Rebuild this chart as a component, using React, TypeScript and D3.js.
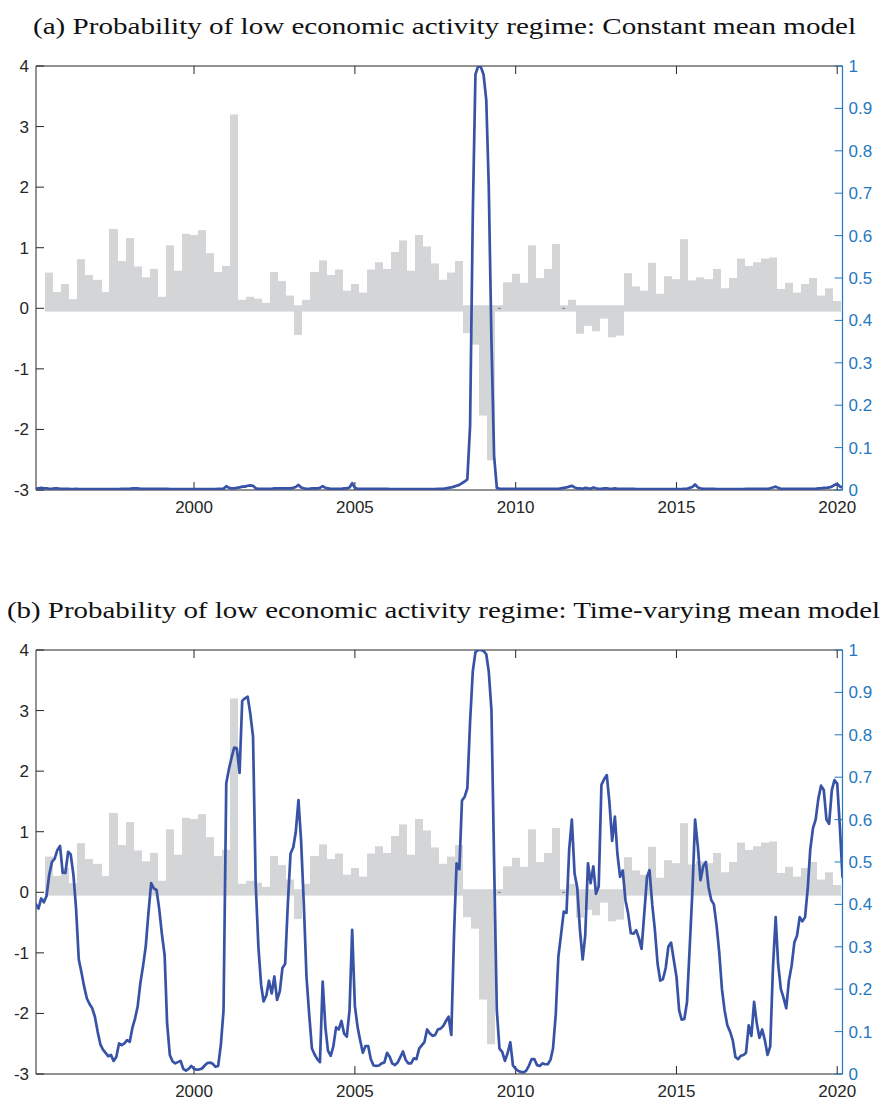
import * as d3 from "d3";

// Quarterly GDP growth (%), 1995Q2 .. 2019Q4, bars centred on quarter end
const gdpGrowth = [
  0.59, 0.27, 0.40, 0.15, 0.81, 0.55, 0.47, 0.27, 1.31, 0.78,
  1.16, 0.69, 0.51, 0.65, 0.19, 1.04, 0.62, 1.23, 1.21, 1.29,
  0.91, 0.60, 0.70, 3.20, 0.14, 0.19, 0.16, 0.09, 0.60, 0.45,
  0.21, -0.44, 0.14, 0.60, 0.79, 0.55, 0.64, 0.29, 0.40, 0.26,
  0.64, 0.76, 0.65, 0.93, 1.12, 0.62, 1.21, 1.02, 0.74, 0.47,
  0.59, 0.78, -0.41, -0.60, -1.77, -2.51, 0.0, 0.43, 0.57, 0.42,
  1.04, 0.50, 0.65, 1.06, 0.0, 0.14, -0.42, -0.29, -0.38, -0.17,
  -0.48, -0.45, 0.58, 0.36, 0.29, 0.75, 0.24, 0.53, 0.48, 1.14,
  0.46, 0.51, 0.48, 0.65, 0.33, 0.50, 0.82, 0.70, 0.76, 0.82,
  0.84, 0.32, 0.42, 0.26, 0.40, 0.50, 0.21, 0.33, 0.12,
];

// Monthly regime probabilities, Feb 1995 .. Mar 2020 (one row per year)
const probConstantRows = [
  [0.003, 0.004, 0.005, 0.004, 0.004, 0.003, 0.003, 0.004, 0.004, 0.003, 0.003],
  [0.003, 0.003, 0.002, 0.002, 0.003, 0.002, 0.002, 0.002, 0.002, 0.002, 0.002, 0.002],
  [0.002, 0.002, 0.002, 0.002, 0.002, 0.002, 0.002, 0.002, 0.002, 0.003, 0.003, 0.003],
  [0.003, 0.004, 0.004, 0.004, 0.003, 0.003, 0.003, 0.003, 0.003, 0.003, 0.003, 0.003],
  [0.003, 0.003, 0.003, 0.002, 0.002, 0.002, 0.002, 0.002, 0.002, 0.002, 0.002, 0.002],
  [0.002, 0.002, 0.002, 0.002, 0.002, 0.002, 0.002, 0.002, 0.002, 0.003, 0.003, 0.003],
  [0.009, 0.005, 0.004, 0.004, 0.005, 0.006, 0.008, 0.008, 0.010, 0.011, 0.010, 0.004],
  [0.003, 0.003, 0.003, 0.003, 0.003, 0.003, 0.004, 0.004, 0.004, 0.004, 0.004, 0.004],
  [0.004, 0.005, 0.007, 0.012, 0.006, 0.004, 0.003, 0.003, 0.004, 0.004, 0.004, 0.005],
  [0.009, 0.005, 0.004, 0.003, 0.003, 0.003, 0.003, 0.003, 0.004, 0.004, 0.006, 0.016],
  [0.005, 0.003, 0.003, 0.003, 0.003, 0.003, 0.003, 0.003, 0.003, 0.003, 0.003, 0.003],
  [0.003, 0.002, 0.002, 0.002, 0.002, 0.002, 0.002, 0.002, 0.002, 0.002, 0.002, 0.002],
  [0.002, 0.002, 0.002, 0.002, 0.002, 0.002, 0.002, 0.003, 0.003, 0.003, 0.004, 0.005],
  [0.006, 0.008, 0.010, 0.012, 0.016, 0.020, 0.025, 0.150, 0.650, 0.980, 1.000, 0.998],
  [0.980, 0.920, 0.720, 0.350, 0.080, 0.005, 0.003, 0.003, 0.003, 0.003, 0.003, 0.003],
  [0.003, 0.003, 0.003, 0.003, 0.003, 0.003, 0.003, 0.003, 0.003, 0.003, 0.003, 0.003],
  [0.003, 0.003, 0.003, 0.003, 0.003, 0.004, 0.005, 0.006, 0.008, 0.010, 0.006, 0.004],
  [0.004, 0.003, 0.005, 0.004, 0.003, 0.006, 0.004, 0.003, 0.003, 0.004, 0.004, 0.003],
  [0.003, 0.004, 0.003, 0.003, 0.003, 0.003, 0.003, 0.003, 0.003, 0.002, 0.002, 0.002],
  [0.002, 0.002, 0.002, 0.002, 0.002, 0.002, 0.002, 0.002, 0.002, 0.002, 0.002, 0.002],
  [0.002, 0.002, 0.002, 0.003, 0.003, 0.005, 0.007, 0.013, 0.006, 0.004, 0.003, 0.003],
  [0.003, 0.003, 0.003, 0.002, 0.002, 0.002, 0.002, 0.002, 0.002, 0.002, 0.002, 0.002],
  [0.002, 0.002, 0.003, 0.003, 0.003, 0.003, 0.003, 0.003, 0.003, 0.003, 0.003, 0.004],
  [0.006, 0.008, 0.005, 0.003, 0.003, 0.003, 0.003, 0.003, 0.003, 0.003, 0.003, 0.003],
  [0.003, 0.003, 0.003, 0.003, 0.003, 0.004, 0.004, 0.005, 0.005, 0.006, 0.008, 0.012],
  [0.014, 0.008, 0.006],
];

const probTimeVaryingRows = [
  [0.40, 0.39, 0.414, 0.405, 0.42, 0.47, 0.50, 0.508, 0.528, 0.538, 0.475],
  [0.474, 0.524, 0.518, 0.47, 0.39, 0.27, 0.24, 0.206, 0.178, 0.165, 0.155, 0.135],
  [0.10, 0.07, 0.058, 0.05, 0.042, 0.045, 0.031, 0.04, 0.072, 0.068, 0.072, 0.08],
  [0.076, 0.11, 0.13, 0.16, 0.214, 0.255, 0.30, 0.38, 0.45, 0.438, 0.434, 0.39],
  [0.33, 0.28, 0.12, 0.045, 0.03, 0.025, 0.028, 0.031, 0.012, 0.008, 0.012, 0.019],
  [0.012, 0.01, 0.011, 0.013, 0.02, 0.026, 0.027, 0.024, 0.017, 0.019, 0.07, 0.15],
  [0.686, 0.72, 0.745, 0.77, 0.768, 0.71, 0.88, 0.886, 0.89, 0.85, 0.796, 0.45],
  [0.30, 0.21, 0.171, 0.185, 0.22, 0.19, 0.23, 0.175, 0.195, 0.25, 0.26, 0.40],
  [0.52, 0.535, 0.57, 0.646, 0.55, 0.40, 0.23, 0.14, 0.06, 0.046, 0.035, 0.028],
  [0.218, 0.11, 0.055, 0.043, 0.065, 0.11, 0.105, 0.125, 0.095, 0.088, 0.15, 0.34],
  [0.16, 0.11, 0.08, 0.05, 0.066, 0.066, 0.035, 0.02, 0.019, 0.02, 0.025, 0.027],
  [0.05, 0.04, 0.025, 0.021, 0.027, 0.04, 0.053, 0.033, 0.025, 0.025, 0.037, 0.035],
  [0.06, 0.068, 0.075, 0.105, 0.096, 0.09, 0.092, 0.105, 0.107, 0.113, 0.125, 0.135],
  [0.092, 0.33, 0.497, 0.483, 0.645, 0.654, 0.674, 0.83, 0.95, 0.995, 1.0, 1.0],
  [0.998, 0.99, 0.95, 0.858, 0.50, 0.15, 0.06, 0.052, 0.031, 0.049, 0.075, 0.02],
  [0.012, 0.007, 0.005, 0.004, 0.008, 0.02, 0.035, 0.035, 0.021, 0.019, 0.025, 0.023],
  [0.023, 0.034, 0.06, 0.14, 0.277, 0.33, 0.383, 0.38, 0.53, 0.60, 0.473, 0.44],
  [0.34, 0.27, 0.327, 0.497, 0.45, 0.49, 0.425, 0.442, 0.682, 0.695, 0.705, 0.64],
  [0.55, 0.607, 0.52, 0.465, 0.48, 0.41, 0.379, 0.332, 0.331, 0.339, 0.32, 0.295],
  [0.38, 0.465, 0.481, 0.40, 0.34, 0.26, 0.22, 0.224, 0.25, 0.30, 0.31, 0.27],
  [0.23, 0.15, 0.128, 0.13, 0.17, 0.30, 0.43, 0.60, 0.536, 0.457, 0.49, 0.50],
  [0.44, 0.41, 0.40, 0.35, 0.287, 0.2, 0.15, 0.115, 0.10, 0.08, 0.04, 0.035],
  [0.043, 0.045, 0.05, 0.115, 0.09, 0.17, 0.12, 0.085, 0.105, 0.08, 0.045, 0.065],
  [0.25, 0.37, 0.26, 0.20, 0.18, 0.155, 0.22, 0.255, 0.31, 0.326, 0.37, 0.36],
  [0.37, 0.44, 0.53, 0.58, 0.60, 0.65, 0.68, 0.67, 0.60, 0.59, 0.67, 0.693],
  [0.685, 0.58, 0.465],
];

const leftTicks = [-3, -2, -1, 0, 1, 2, 3, 4];
const rightTicks = [0, 0.1, 0.2, 0.3, 0.4, 0.5, 0.6, 0.7, 0.8, 0.9, 1];
const rightTickLabels = ["0", "0.1", "0.2", "0.3", "0.4", "0.5", "0.6", "0.7", "0.8", "0.9", "1"];
const yearTicks = [2000, 2005, 2010, 2015, 2020];
const panelTitles = [
  "(a) Probability of low economic activity regime: Constant mean model",
  "(b) Probability of low economic activity regime: Time-varying mean model",
];

const W = 884;
const H = 1102;
const left = 36;
const right = 842.5;
const panelH = 424;

const barColor = "#d4d5d7";
const lineColor = "#3853a6";
const axisColor = "#262626";
const rightColor = "#1f78c1";
const tickFont = "'Liberation Sans', Arial, Helvetica, sans-serif";

const x = d3.scaleTime()
  .domain([new Date(1995, 1, 1), new Date(2020, 2, 1)])
  .range([left, right]);

const HALF_Q = 45.65 * 86400000;
const quarterEnd = (i: number) => new Date(1995, 6 + 3 * i, 0);
const monthDate = (i: number) => new Date(1995, 1 + i, 1);

// bar edges: midpoints between neighbouring quarter-end dates, snapped to pixels
const barCentres = gdpGrowth.map((_, i) => quarterEnd(i).getTime());
const barEdges = d3.range(gdpGrowth.length + 1).map((k) => {
  const t =
    k === 0
      ? barCentres[0] - HALF_Q
      : k === gdpGrowth.length
        ? barCentres[k - 1] + HALF_Q
        : (barCentres[k - 1] + barCentres[k]) / 2;
  return Math.min(Math.round(x(new Date(t))), right);
});

type PanelProps = {
  top: number;
  title: string;
  titleX: number;
  titleLen: number;
  prob: number[];
  id: string;
};

function Panel({ top, title, titleX, titleLen, prob, id }: PanelProps) {
  const bottom = top + panelH;
  const yL = d3.scaleLinear().domain([-3, 4]).range([bottom, top]);
  const yR = d3.scaleLinear().domain([0, 1]).range([bottom, top]);

  const line = d3.line<number>()
    .x((_, i) => x(monthDate(i)))
    .y((d) => yR(d));

  return (
    <g>
      <text
        x={titleX}
        y={top - 32}
        textLength={titleLen}
        lengthAdjust="spacingAndGlyphs"
        fontFamily="'Liberation Serif', 'Times New Roman', serif"
        fontSize={24}
        fill="#111"
      >
        {title}
      </text>

      <clipPath id={id}>
        <rect x={left} y={top} width={right - left} height={panelH} />
      </clipPath>

      {/* GDP bars */}
      <g>
        {gdpGrowth.map((v, i) => {
          const t = yL(Math.max(v, 0.05));
          const b = yL(Math.min(v, -0.055));
          return (
            <rect
              key={i}
              x={barEdges[i]}
              y={t}
              width={barEdges[i + 1] - barEdges[i]}
              height={b - t}
              fill={barColor}
            />
          );
        })}
      </g>
      {gdpGrowth.map((v, i) =>
        Math.abs(v) < 0.02 ? (
          <line
            key={"z" + i}
            x1={x(quarterEnd(i)) - 1.5}
            x2={x(quarterEnd(i)) + 1.5}
            y1={yL(0)}
            y2={yL(0)}
            stroke="#777"
            strokeWidth={1}
          />
        ) : null
      )}

      {/* axes box */}
      <line x1={left} x2={right} y1={top} y2={top} stroke={axisColor} strokeWidth={1} />
      <line x1={left} x2={right} y1={bottom} y2={bottom} stroke={axisColor} strokeWidth={1} />
      <line x1={left} x2={left} y1={top} y2={bottom} stroke={axisColor} strokeWidth={1} />

      {leftTicks.map((t) => (
        <g key={"l" + t}>
          <line x1={left} x2={left + 8} y1={yL(t)} y2={yL(t)} stroke={axisColor} strokeWidth={1} />
          <text
            x={left - 7}
            y={yL(t) + 6}
            textAnchor="end"
            fontFamily={tickFont}
            fontSize={17}
            fill={axisColor}
          >
            {t}
          </text>
        </g>
      ))}

      {yearTicks.map((yr) => {
        const px = x(new Date(yr, 0, 1));
        return (
          <g key={"y" + yr}>
            <line x1={px} x2={px} y1={top} y2={top + 8} stroke={axisColor} strokeWidth={1} />
            <line x1={px} x2={px} y1={bottom} y2={bottom - 8} stroke={axisColor} strokeWidth={1} />
            <text
              x={px}
              y={bottom + 23}
              textAnchor="middle"
              fontFamily={tickFont}
              fontSize={17}
              fill={axisColor}
            >
              {yr}
            </text>
          </g>
        );
      })}

      {/* probability line */}
      <path
        d={line(prob) ?? ""}
        fill="none"
        stroke={lineColor}
        strokeWidth={2.7}
        strokeLinejoin="round"
        strokeLinecap="round"
        clipPath={`url(#${id})`}
      />

      {/* right axis */}
      <line x1={right} x2={right} y1={top} y2={bottom} stroke={rightColor} strokeWidth={1.2} />
      {rightTicks.map((t, i) => (
        <g key={"r" + i}>
          <line x1={right - 8} x2={right} y1={yR(t)} y2={yR(t)} stroke={rightColor} strokeWidth={1} />
          <text
            x={right + 6}
            y={yR(t) + 6}
            textAnchor="start"
            fontFamily={tickFont}
            fontSize={17}
            fill={rightColor}
          >
            {rightTickLabels[i]}
          </text>
        </g>
      ))}
    </g>
  );
}

export default function App() {
  const probConstant = probConstantRows.flat();
  const probTimeVarying = probTimeVaryingRows.flat();
  return (
    <svg
      width={W}
      height={H}
      style={{ position: "absolute", left: 0, top: 0, background: "#fff" }}
    >
      <rect width={W} height={H} fill="#fff" />
      <Panel top={66} title={panelTitles[0]} titleX={33} titleLen={823} prob={probConstant} id="clipA" />
      <Panel top={650} title={panelTitles[1]} titleX={7} titleLen={873} prob={probTimeVarying} id="clipB" />
    </svg>
  );
}
